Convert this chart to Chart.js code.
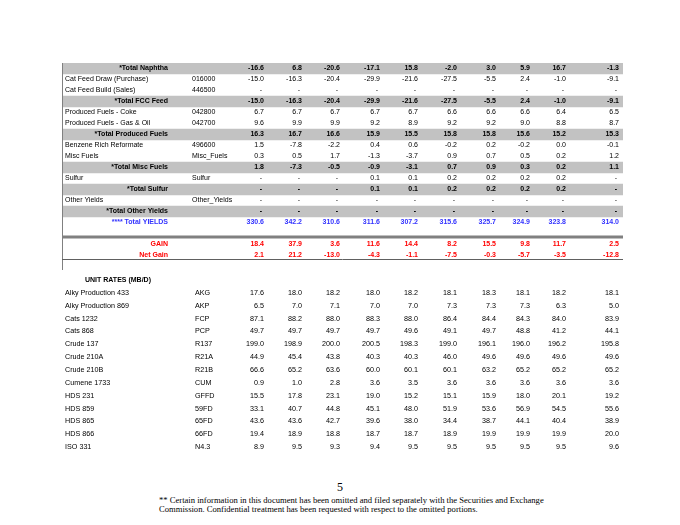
<!DOCTYPE html>
<html>
<head>
<meta charset="utf-8">
<script src="https://cdn.jsdelivr.net/npm/chart.js@4/dist/chart.umd.min.js"></script>
<style>
  body { margin: 0; background: #fff; }
  #page { position: relative; width: 680px; height: 525px; overflow: hidden; }
  canvas { position: absolute; left: 0; }
  #yields { top: 0; }
  #rates { top: 270px; }
  .pageno { position: absolute; top: 480px; left: 0; width: 680px; text-align: center;
    font: 12px "Liberation Serif", serif; }
  .note { position: absolute; top: 496px; left: 159px; width: 420px;
    font: 8.6px/9.4px "Liberation Serif", serif; white-space: nowrap; }
</style>
</head>
<body>
<div id="page">
  <canvas id="yields" width="680" height="270"></canvas>
  <canvas id="rates" width="680" height="190"></canvas>
  <div class="pageno">5</div>
  <div class="note">** Certain information in this document has been omitted and filed separately with the Securities and Exchange<br>Commission. Confidential treatment has been requested with respect to the omitted portions.</div>
</div>
<script>
// yield section rows ("-" cells are null)
const yieldLabels = [
  "*Total Naphtha", "Cat Feed Draw (Purchase)", "Cat Feed Build (Sales)", "*Total FCC Feed",
  "Produced Fuels - Coke", "Produced Fuels - Gas & Oil", "*Total Produced Fuels",
  "Benzene Rich Reformate", "Misc Fuels", "*Total Misc Fuels", "Sulfur", "*Total Sulfur",
  "Other Yields", "*Total Other Yields", "**** Total YIELDS", "", "GAIN", "Net Gain",
];
const yieldCodes = [
  "", "016000", "446500", "", "042800", "042700", "", "496600", "Misc_Fuels", "",
  "Sulfur", "", "Other_Yields", "", "", "", "", "",
];
const yieldKinds = [
  "total", "row", "row", "total", "row", "row", "total", "row", "row", "total",
  "row", "total", "row", "total", "yields", "gap", "gain", "gain",
];
const dashes = [null, null, null, null, null, null, null, null, null, null];
const totalNaphtha = [-16.6, 6.8, -20.6, -17.1, 15.8, -2.0, 3.0, 5.9, 16.7, -1.3];
const catFeedDraw = [-15.0, -16.3, -20.4, -29.9, -21.6, -27.5, -5.5, 2.4, -1.0, -9.1];
const catFeedBuild = dashes;
const totalFccFeed = [-15.0, -16.3, -20.4, -29.9, -21.6, -27.5, -5.5, 2.4, -1.0, -9.1];
const fuelsCoke = [6.7, 6.7, 6.7, 6.7, 6.7, 6.6, 6.6, 6.6, 6.4, 6.5];
const fuelsGasOil = [9.6, 9.9, 9.9, 9.2, 8.9, 9.2, 9.2, 9.0, 8.8, 8.7];
const totalProducedFuels = [16.3, 16.7, 16.6, 15.9, 15.5, 15.8, 15.8, 15.6, 15.2, 15.3];
const benzeneReformate = [1.5, -7.8, -2.2, 0.4, 0.6, -0.2, 0.2, -0.2, 0.0, -0.1];
const miscFuels = [0.3, 0.5, 1.7, -1.3, -3.7, 0.9, 0.7, 0.5, 0.2, 1.2];
const totalMiscFuels = [1.8, -7.3, -0.5, -0.9, -3.1, 0.7, 0.9, 0.3, 0.2, 1.1];
const sulfur = [null, null, null, 0.1, 0.1, 0.2, 0.2, 0.2, 0.2, null];
const totalSulfur = [null, null, null, 0.1, 0.1, 0.2, 0.2, 0.2, 0.2, null];
const otherYields = dashes;
const totalOtherYields = dashes;
const totalYields = [330.6, 342.2, 310.6, 311.6, 307.2, 315.6, 325.7, 324.9, 323.8, 314.0];
const gain = [18.4, 37.9, 3.6, 11.6, 14.4, 8.2, 15.5, 9.8, 11.7, 2.5];
const netGain = [2.1, 21.2, -13.0, -4.3, -1.1, -7.5, -0.3, -5.7, -3.5, -12.8];
const yieldValues = [
  totalNaphtha, catFeedDraw, catFeedBuild, totalFccFeed, fuelsCoke, fuelsGasOil,
  totalProducedFuels, benzeneReformate, miscFuels, totalMiscFuels, sulfur, totalSulfur,
  otherYields, totalOtherYields, totalYields, [], gain, netGain,
];

// unit rates section
const rateLabels = [
  "UNIT RATES (MB/D)", "Alky Production 433", "Alky Production 869", "Cats 1232", "Cats 868",
  "Crude 137", "Crude 210A", "Crude 210B", "Cumene 1733", "HDS 231", "HDS 859", "HDS 865",
  "HDS 866", "ISO 331",
];
const rateCodes = ["", "AKG", "AKP", "FCP", "PCP", "R137", "R21A", "R21B", "CUM", "GFFD", "59FD", "65FD", "66FD", "N4.3"];
const alky433 = [17.6, 18.0, 18.2, 18.0, 18.2, 18.1, 18.3, 18.1, 18.2, 18.1];
const alky869 = [6.5, 7.0, 7.1, 7.0, 7.0, 7.3, 7.3, 7.3, 6.3, 5.0];
const cats1232 = [87.1, 88.2, 88.0, 88.3, 88.0, 86.4, 84.4, 84.3, 84.0, 83.9];
const cats868 = [49.7, 49.7, 49.7, 49.7, 49.6, 49.1, 49.7, 48.8, 41.2, 44.1];
const crude137 = [199.0, 198.9, 200.0, 200.5, 198.3, 199.0, 196.1, 196.0, 196.2, 195.8];
const crude210A = [44.9, 45.4, 43.8, 40.3, 40.3, 46.0, 49.6, 49.6, 49.6, 49.6];
const crude210B = [66.6, 65.2, 63.6, 60.0, 60.1, 60.1, 63.2, 65.2, 65.2, 65.2];
const cumene1733 = [0.9, 1.0, 2.8, 3.6, 3.5, 3.6, 3.6, 3.6, 3.6, 3.6];
const hds231 = [15.5, 17.8, 23.1, 19.0, 15.2, 15.1, 15.9, 18.0, 20.1, 19.2];
const hds859 = [33.1, 40.7, 44.8, 45.1, 48.0, 51.9, 53.6, 56.9, 54.5, 55.6];
const hds865 = [43.6, 43.6, 42.7, 39.6, 38.0, 34.4, 38.7, 44.1, 40.4, 38.9];
const hds866 = [19.4, 18.9, 18.8, 18.7, 18.7, 18.9, 19.9, 19.9, 19.9, 20.0];
const iso331 = [8.9, 9.5, 9.3, 9.4, 9.5, 9.5, 9.5, 9.5, 9.5, 9.6];
const rateValues = [
  [], alky433, alky869, cats1232, cats868, crude137, crude210A, crude210B, cumene1733,
  hds231, hds859, hds865, hds866, iso331,
];

// layout (canvas x positions)
const COL_RIGHT = [264, 302, 340, 380, 418, 457, 496, 530, 566, 619];
const LABEL_X = 65;
const TOTAL_RIGHT = 168;
const FONT = '"Liberation Sans", Arial, sans-serif';

function fmt(v) {
  return v === null || v === undefined ? "-" : v.toFixed(1);
}

function drawValues(ctx, values, py) {
  ctx.textAlign = "right";
  values.forEach((v, c) => {
    ctx.fillText(fmt(v), COL_RIGHT[c] - (v === null ? 2 : 0), py);
  });
}

const yieldText = {
  id: "yieldText",
  afterDatasetsDraw(chart) {
    const { ctx, chartArea } = chart;
    const yScale = chart.scales.y;
    ctx.save();
    // left rule and separators
    ctx.strokeStyle = "#808080";
    ctx.lineWidth = 1;
    ctx.beginPath();
    ctx.moveTo(chartArea.left + 0.5, chartArea.top);
    ctx.lineTo(chartArea.left + 0.5, chart.height);
    ctx.stroke();
    const gapY = yScale.getPixelForValue(15);
    ctx.lineWidth = 3;
    ctx.beginPath();
    ctx.moveTo(chartArea.left, gapY + 3.5);
    ctx.lineTo(chartArea.right, gapY + 3.5);
    ctx.stroke();
    ctx.lineWidth = 1;
    ctx.strokeStyle = "#606060";
    ctx.beginPath();
    ctx.moveTo(chartArea.left, chartArea.bottom - 1.5);
    ctx.lineTo(chartArea.right, chartArea.bottom - 1.5);
    ctx.stroke();

    ctx.textBaseline = "middle";
    yieldLabels.forEach((label, i) => {
      const kind = yieldKinds[i];
      if (kind === "gap") return;
      const py = yScale.getPixelForValue(i);
      const bold = kind !== "row";
      ctx.font = (bold ? "bold " : "") + "7px " + FONT;
      ctx.fillStyle = kind === "yields" ? "#3333ff" : kind === "gain" ? "#ff0000" : "#000";
      if (bold) {
        ctx.textAlign = "right";
        ctx.fillText(label, TOTAL_RIGHT, py);
      } else {
        ctx.textAlign = "left";
        ctx.fillText(label, LABEL_X, py);
        ctx.fillText(yieldCodes[i], 192, py);
      }
      drawValues(ctx, yieldValues[i], py);
    });
    ctx.restore();
  },
};

const rateText = {
  id: "rateText",
  afterDatasetsDraw(chart) {
    const { ctx } = chart;
    const yScale = chart.scales.y;
    ctx.save();
    ctx.textBaseline = "middle";
    ctx.fillStyle = "#000";
    rateLabels.forEach((label, i) => {
      const py = yScale.getPixelForValue(i);
      ctx.textAlign = "left";
      if (i === 0) {
        ctx.font = "bold 7px " + FONT;
        ctx.fillText(label, 85, py);
        return;
      }
      ctx.font = "7.2px " + FONT;
      ctx.fillText(label, LABEL_X, py);
      ctx.fillText(rateCodes[i], 195, py);
      drawValues(ctx, rateValues[i], py);
    });
    ctx.restore();
  },
};

const baseOptions = (padding) => ({
  indexAxis: "y",
  responsive: false,
  animation: false,
  layout: { padding },
  plugins: { legend: { display: false }, tooltip: { enabled: false } },
  scales: {
    x: { display: false, min: 0, max: 1 },
    y: { display: false },
  },
});

// shaded total rows as floating bars across the table width
new Chart(document.getElementById("yields").getContext("2d"), {
  type: "bar",
  data: {
    labels: yieldLabels,
    datasets: [
      {
        data: yieldKinds.map((k) => (k === "total" ? [0, 1] : null)),
        backgroundColor: "#c2c2c2",
        barPercentage: 1,
        categoryPercentage: 1,
      },
    ],
  },
  options: baseOptions({ left: 62, right: 57, top: 63, bottom: 9 }),
  plugins: [yieldText],
});

new Chart(document.getElementById("rates").getContext("2d"), {
  type: "bar",
  data: {
    labels: rateLabels,
    datasets: [{ data: rateLabels.map(() => null) }],
  },
  options: baseOptions({ left: 62, right: 57, top: 3.6, bottom: 6.5 }),
  plugins: [rateText],
});
</script>
</body>
</html>
